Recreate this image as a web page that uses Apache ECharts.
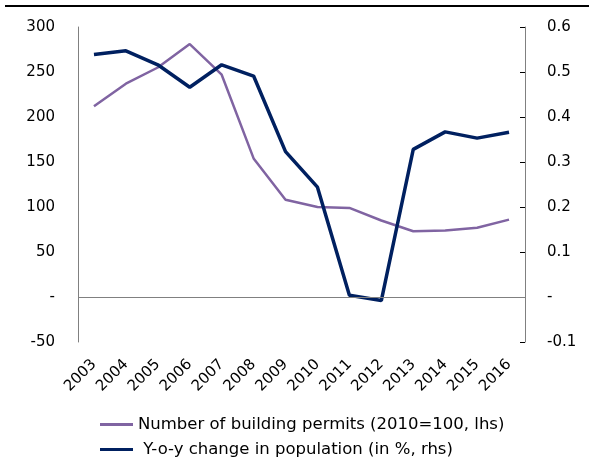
<!DOCTYPE html>
<html>
<head>
<meta charset="utf-8">
<script src="https://cdn.jsdelivr.net/npm/echarts@6/dist/echarts.min.js"></script>
<style>html,body{margin:0;padding:0;background:#fff}#c{width:589px;height:465px}</style>
</head>
<body>
<div id="c"></div>
<script>
const years = ['2003','2004','2005','2006','2007','2008','2009','2010','2011','2012','2013','2014','2015','2016'];
const permits = [212, 237, 255, 281, 247, 154, 108, 100, 99, 85, 73, 74, 77, 86];
const population = [0.539, 0.547, 0.516, 0.466, 0.516, 0.491, 0.323, 0.244, 0.004, -0.008, 0.328, 0.367, 0.353, 0.366];
const permitsName = 'Number of building permits (2010=100, lhs)';
const popName = ' Y-o-y change in population (in %, rhs)';

const font = 'DejaVu Sans';
const chart = echarts.init(document.getElementById('c'), null, {renderer: 'canvas'});
chart.setOption({
  animation: false,
  textStyle: {fontFamily: font},
  graphic: [{
    type: 'line', shape: {x1: 5, y1: 6, x2: 589, y2: 6},
    style: {stroke: '#000', lineWidth: 2}
  }],
  grid: {left: 78, right: 64, top: 27, bottom: 123, containLabel: false},
  legend: {
    orient: 'vertical', left: 95, top: 411, itemGap: 8,
    itemWidth: 33, itemHeight: 3,
    textStyle: {fontFamily: font, fontSize: 16.5, color: '#000'},
    data: [{name: permitsName, icon: 'rect'}, {name: popName, icon: 'rect'}]
  },
  xAxis: {
    type: 'category', data: years, boundaryGap: true,
    axisLine: {show: false}, axisTick: {show: false},
    axisLabel: {rotate: 45, fontSize: 15, color: '#000', fontFamily: font, margin: 20, interval: 0}
  },
  yAxis: [{
    type: 'value', min: -50, max: 300, interval: 50, position: 'left',
    splitLine: {show: false},
    axisLine: {show: true, lineStyle: {color: '#808080', width: 1}},
    axisTick: {show: false},
    axisLabel: {fontSize: 15, color: '#000', fontFamily: font, margin: 23,
      formatter: v => v === 0 ? '-' : String(v)}
  }, {
    type: 'value', min: -0.1, max: 0.6, interval: 0.1, position: 'right',
    splitLine: {show: false},
    axisLine: {show: true, lineStyle: {color: '#808080', width: 1}},
    axisTick: {show: true, inside: true, length: 5, lineStyle: {color: '#000'}},
    axisLabel: {fontSize: 15, color: '#000', fontFamily: font, margin: 22,
      formatter: v => Math.abs(v) < 1e-9 ? '-' : v.toFixed(1)}
  }],
  series: [{
    name: permitsName, type: 'line', yAxisIndex: 0, data: permits,
    symbol: 'none', lineStyle: {color: '#8064A2', width: 2.5}, itemStyle: {color: '#8064A2'},
    markLine: {
      silent: true, symbol: ['none', 'none'], label: {show: false},
      lineStyle: {color: '#808080', width: 1, type: 'solid'},
      data: [{yAxis: 0}]
    }
  }, {
    name: popName, type: 'line', yAxisIndex: 1, data: population,
    symbol: 'none', lineStyle: {color: '#002060', width: 3.5}, itemStyle: {color: '#002060'}
  }]
});
</script>
</body>
</html>
